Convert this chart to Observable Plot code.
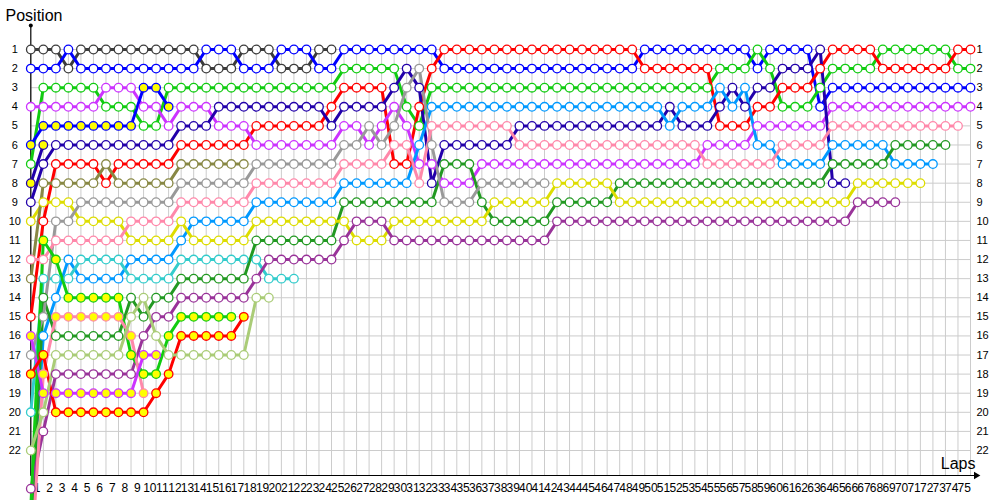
<!DOCTYPE html>
<html><head><meta charset="utf-8">
<script src="https://cdn.jsdelivr.net/npm/d3@7"></script>
<script src="https://cdn.jsdelivr.net/npm/@observablehq/plot@0.6"></script>
<style>body{margin:0;background:#fff;} svg{display:block}</style>
</head><body><div id="chart"></div>
<script>
// Lap ticks and position ticks
const lapTicks = d3.range(1, 76);        // labels 1..75
const gridLaps = d3.range(0, 76);        // columns 0..75
const positionTicks = d3.range(1, 23);   // 1..22

// Positions per driver, index = lap (0 = start)
const posD  = [1,1,1,2,1,1,1,1,1,1,1,1,1,1,2,2,2,1,1,1,2,2,2,1,1];
const posB  = [2,2,2,1,2,2,2,2,2,2,2,2,2,2,1,1,1,2,2,2,1,1,1,2,2,
               1,1,1,1,1,1,1,1,
               2,2,2,2,2,2,2,2,2,2,2,2,2,2,2,2,
               1,1,1,1,1,1,1,1,1,
               2,
               1,1,1,1,
               4,
               3,3,3,3,3,3,3,3,3,3,3,3];
const posG  = [7,3,3,3,3,3,4,4,4,5,5,
               3,3,3,3,3,3,3,3,3,3,3,3,3,3,
               2,2,2,2,2,4,5,
               3,3,3,3,3,3,3,3,3,3,3,3,3,3,3,3,3,3,3,3,3,3,3,
               2,2,2,1,2,4,4,4,3,2,2,2,2,
               1,1,1,1,1,1,2,2];
const posR  = [15,10,7,7,7,7,8,7,7,7,7,7,
               6,6,6,6,6,6,
               5,5,5,5,5,5,
               4,3,3,3,3,7,7,4,2,
               1,1,1,1,1,1,1,1,1,1,1,1,1,1,1,1,
               2,2,2,2,2,2,
               5,5,5,4,4,3,3,3,2,
               1,1,1,1,
               2,2,2,2,2,2,
               1,1];
const posM  = [4,4,4,4,4,4,3,3,3,4,4,5,4,4,4,5,5,5,
               6,6,6,6,6,6,6,
               5,5,6,5,4,5,7,7,8,8,8,
               7,7,7,7,7,7,7,7,7,7,7,7,7,7,7,7,7,7,
               6,6,6,6,
               5,5,5,5,5,5,
               4,4,4,4,4,4,4,4,4,4,4,4];
const posN  = [9,7,6,6,6,6,6,6,6,6,6,6,
               5,5,5,
               4,4,4,4,4,4,4,4,4,
               5,4,4,4,4,3,2,3,8,
               6,6,6,6,6,6,
               5,5,5,5,5,5,5,5,5,5,5,5,
               4,5,5,5,4,3,4,3,3,2,2,2,1,8,8];
const posLB = [26,16,14,12,13,13,13,13,12,12,12,12,11,
               10,10,10,10,10,
               9,9,9,9,9,9,9,
               8,8,8,8,8,8,6,
               4,4,4,4,4,4,4,4,4,4,4,4,4,4,4,4,4,4,4,
               5,4,4,4,3,4,3,6,6,
               7,7,7,7,
               6,6,6,6,6,
               7,7,7,7];
const posCY = [20,13,13,13,12,12,12,12,13,13,13,13,
               12,12,12,12,12,12,12,13,13,13];
const posDG = [27,14,16,16,16,16,16,16,14,15,14,14,
               13,13,13,13,13,13,
               11,11,11,11,11,11,11,
               9,9,9,9,9,9,9,9,
               7,7,7,9,
               10,10,10,10,10,
               9,9,9,9,9,
               8,8,8,8,8,8,8,8,8,8,8,8,8,8,8,8,8,
               7,7,7,7,7,
               6,6,6,6,6];
const posY  = [10,9,9,9,10,10,10,10,11,11,11,11,10,
               11,11,11,11,11,
               10,10,10,10,10,10,10,10,
               11,11,11,
               10,10,10,10,10,10,10,10,
               9,9,9,9,9,
               8,8,8,8,8,
               9,9,9,9,9,9,9,9,9,9,9,9,9,9,9,9,9,9,9,
               8,8,8,8,8,8];
const posPU = [24,21,18,18,18,18,18,18,18,16,15,15,
               14,14,14,14,14,14,13,
               12,12,12,12,12,12,
               11,10,10,10,
               11,11,11,11,11,11,11,11,11,11,11,11,11,
               10,10,10,10,10,10,10,10,10,10,10,10,10,10,10,10,10,10,10,10,10,10,10,10,
               9,9,9,9];
const posGR = [17,15,10,10,9,9,9,9,9,9,9,9,
               8,8,8,8,8,8,
               7,7,7,7,7,7,7,
               6,6,5,6,5,3,2,6,
               9,9,9,
               8,8,8,8,8,8];
const posOL = [13,8,8,8,8,8,7,8,8,8,8,8,7,7,7,7,7,7];
const posP  = [12,12,11,11,11,11,11,11,10,10,10,10,
               9,9,9,9,9,9,
               8,8,8,8,8,8,8,
               7,7,7,7,6,6,8,
               5,5,5,5,5,5,5,
               6,6,6,6,6,6,6,6,6,6,6,6,6,6,6,
               7,7,7,7,7,7,
               6,6,6,6,
               5,5,5,5,5,5,5,5,5,5,5];
const posB2 = [6,5,5,5,5,5,5,5,5,3,3,4];
const posN2 = [8,6];
const posG2 = [25,11,12,14,14,14,14,14,17,18,18,16,15,15,15,15,15];
const posP2 = [28,18,15,15,15,15,15,15,16,19];
const posM2 = [16,19,19,19,19,19,19,19,19,17,17];
const posR2 = [18,17,20,20,20,20,20,20,20,20,19,18,16,16,16,16,16,15];
const posLG = [22,20,17,17,17,17,17,17,15,14,16,17,17,17,17,17,17,17,14,14];

const drivers = ["D","B","G","R","M","N","LB","CY","DG","Y","PU","GR","OL","P","B2","N2","G2","P2","M2","R2","LG"];
const driverColors = ["#3c3c3c","#0000ff","#11cc11","#ff0000","#cc33ff","#2200aa","#0099ff","#33cccc","#229922","#dddd00","#993399","#999999","#888844","#ff88aa","#0000ff","#2200aa","#11cc11","#ff88aa","#cc33ff","#ff0000","#aacc77"];
const driverFills  = ["#ffffff","#ffffff","#ffffff","#ffffff","#ffffff","#ffffff","#ffffff","#ffffff","#ffffff","#ffffff","#ffffff","#ffffff","#ffffff","#ffffff","#ffff00","#ffff00","#ffff00","#ffff00","#ffff00","#ffff00","#ffffff"];
const driverPositions = [posD,posB,posG,posR,posM,posN,posLB,posCY,posDG,posY,posPU,posGR,posOL,posP,posB2,posN2,posG2,posP2,posM2,posR2,posLG];

const rows = [];
drivers.forEach((d, i) => {
  driverPositions[i].forEach((p, lap) => rows.push({driver: d, lap, pos: p, color: driverColors[i], fill: driverFills[i]}));
});

// axis extents in position units
const axisTop = -0.26, gridTop = 0.79, axisBottom = 23.31, arrowX = 75.45;

const chart = Plot.plot({
  width: 1000, height: 500, margin: 0,
  x: {domain: [0, 75], range: [30.3, 970], axis: null},
  y: {domain: [1, 22], range: [49, 450], axis: null},
  color: {type: "identity"},
  style: {fontFamily: "'Liberation Sans', Arial, sans-serif", background: "white", overflow: "hidden"},
  marks: [
    Plot.ruleX(gridLaps, {x: d => d, y1: gridTop, y2: axisBottom, stroke: "#cccccc", strokeWidth: 1}),
    Plot.ruleY(positionTicks, {y: d => d, x1: 0, x2: 75, stroke: "#cccccc", strokeWidth: 1}),
    Plot.ruleX([0], {x: d => d, y1: axisTop, y2: axisBottom, stroke: "black", strokeWidth: 1.2}),
    Plot.ruleY([axisBottom], {y: d => d, x1: 0, x2: arrowX, stroke: "black", strokeWidth: 1.2}),
    Plot.dot([0], {x: 0, y: axisTop, r: 2, fill: "black"}),
    Plot.dot([0], {x: arrowX, y: axisBottom, symbol: "triangle2", r: 3.5, fill: "black", rotate: 90}),
    Plot.text(positionTicks, {x: 0, y: d => d, dx: -16, text: d => String(d), fontSize: 11, textAnchor: "middle", fill: "black"}),
    Plot.text(positionTicks, {x: 75, y: d => d, dx: 6, text: d => String(d), fontSize: 11, textAnchor: "start", fill: "black"}),
    Plot.text(lapTicks, {x: d => d - 0.5, y: axisBottom, dy: 13, text: d => String(d), fontSize: 12, textAnchor: "middle", fill: "black"}),
    Plot.text(["Position"], {frameAnchor: "top-left", dx: 5, dy: 15, text: d => d, fontSize: 16, textAnchor: "start", lineAnchor: "middle", fill: "black"}),
    Plot.text(["Laps"], {x: 75, y: axisBottom, dx: 5, dy: -12, text: d => d, fontSize: 16, textAnchor: "end", lineAnchor: "middle", fill: "black"}),
    Plot.line(rows, {x: "lap", y: "pos", z: "driver", stroke: "color", strokeWidth: 3, strokeLinejoin: "round"}),
    Plot.dot(rows, {x: "lap", y: "pos", r: 4.3, fill: "fill", stroke: "color", strokeWidth: 1.3})
  ]
});
document.getElementById("chart").appendChild(chart);
</script></body></html>
